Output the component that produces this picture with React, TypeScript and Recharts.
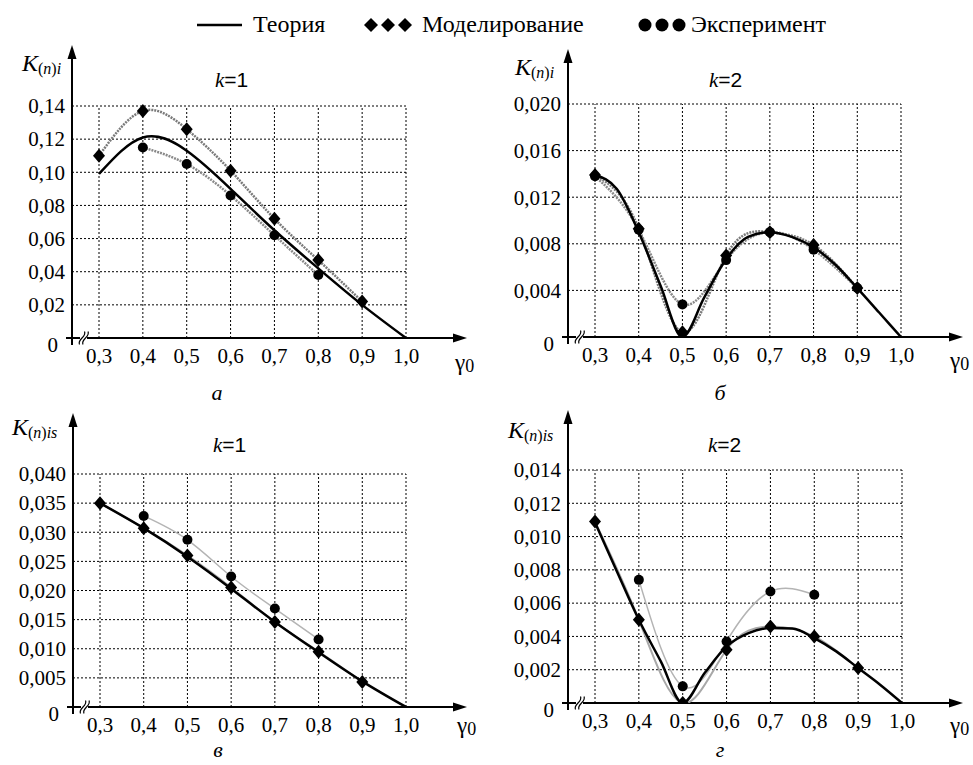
import React from "react"
import { ComposedChart, Line, XAxis, YAxis, ReferenceLine } from "recharts"

const SERIF = "'Liberation Serif', 'DejaVu Serif', 'Times New Roman', Tinos, serif"
const SANS = "'Liberation Sans', Arial, sans-serif"

// abscissa values (γ0)
const gamma = [0.3, 0.4, 0.5, 0.6, 0.7, 0.8, 0.9]
const gammaTheory = [0.3, 0.4, 0.5, 0.6, 0.7, 0.8, 0.9, 1.0]
const gammaFine = [0.3, 0.35, 0.4, 0.45, 0.5, 0.55, 0.6, 0.65, 0.7, 0.75, 0.8, 0.85, 0.9, 0.95, 1.0]
const xTicks = [0.3, 0.4, 0.5, 0.6, 0.7, 0.8, 0.9, 1.0]

// а) K(n)i, k=1
const theoryA = [0.099, 0.121, 0.113, 0.09, 0.065, 0.042, 0.02, 0]
const modelA = [0.11, 0.137, 0.126, 0.101, 0.072, 0.047, 0.022]
const experimentA = [null, 0.115, 0.105, 0.086, 0.062, 0.038, null]
const yTicksA = [0, 0.02, 0.04, 0.06, 0.08, 0.1, 0.12, 0.14]

// б) K(n)i, k=2
const theoryB = [0.0139, 0.0127, 0.009, 0.0044, 0, 0.0034, 0.0067, 0.0086, 0.009, 0.0086, 0.0077, 0.0062, 0.0042, 0.0021, 0]
const modelB = [0.0139, 0.0093, 0.0004, 0.007, 0.009, 0.0079, 0.0042]
const experimentB = [0.0138, 0.0092, 0.0028, 0.0066, 0.009, 0.0075, 0.0042]
const yTicksB = [0, 0.004, 0.008, 0.012, 0.016, 0.02]

// в) K(n)is, k=1
const theoryC = [0.035, 0.0307, 0.0258, 0.0203, 0.0146, 0.0094, 0.0044, 0]
const modelC = [0.035, 0.0307, 0.026, 0.0205, 0.0146, 0.0095, 0.0043]
const experimentC = [null, 0.0328, 0.0287, 0.0224, 0.0169, 0.0116, null]
const yTicksC = [0, 0.005, 0.01, 0.015, 0.02, 0.025, 0.03, 0.035, 0.04]

// г) K(n)is, k=2
const theoryD = [0.01085, 0.0079, 0.005, 0.0025, 0, 0.0018, 0.0034, 0.0042, 0.0045, 0.00447, 0.0039, 0.0031, 0.0021, 0.0011, 0]
const modelD = [0.0109, 0.005, 0, 0.0032, 0.0046, 0.004, 0.0021]
const experimentD = [null, 0.0074, 0.001, 0.0037, 0.0067, 0.0065, null]
const yTicksD = [0, 0.002, 0.004, 0.006, 0.008, 0.01, 0.012, 0.014]

type Row = { x: number; y: number }
const rows = (xs: number[], ys: (number | null)[]): Row[] =>
  xs.map((x, i) => ({ x, y: ys[i] as number })).filter((r) => r.y != null)

type Cfg = {
  box: { left: number; top: number; width: number; height: number }
  plot: { left: number; right: number; top: number; bottom: number }
  x03: number
  x10: number
  yTop: number
  yTopPx: number
}

const cfgA: Cfg = { box: { left: 0, top: 0, width: 486, height: 382 }, plot: { left: 72, right: 467, top: 45, bottom: 338 }, x03: 99, x10: 406, yTop: 0.14, yTopPx: 106 }
const cfgB: Cfg = { box: { left: 486, top: 0, width: 487, height: 382 }, plot: { left: 568, right: 963, top: 49, bottom: 337 }, x03: 595, x10: 901, yTop: 0.02, yTopPx: 104 }
const cfgC: Cfg = { box: { left: 0, top: 382, width: 486, height: 383 }, plot: { left: 73, right: 467, top: 413, bottom: 707 }, x03: 100, x10: 406, yTop: 0.04, yTopPx: 474 }
const cfgD: Cfg = { box: { left: 486, top: 382, width: 487, height: 383 }, plot: { left: 568, right: 963, top: 410, bottom: 703 }, x03: 595, x10: 902, yTop: 0.014, yTopPx: 470 }

const ArrowLine = (p: any) => {
  const { x1, y1, x2, y2 } = p
  const dx = x2 - x1
  const dy = y2 - y1
  const len = Math.hypot(dx, dy) || 1
  const ux = dx / len
  const uy = dy / len
  const L = 14
  const W = 4.5
  const bx = x2 - ux * L
  const by = y2 - uy * L
  return (
    <g>
      <line x1={x1} y1={y1} x2={bx + ux * 2} y2={by + uy * 2} stroke="#000" strokeWidth={2} />
      <polygon points={`${x2},${y2} ${bx - uy * W},${by + ux * W} ${bx + uy * W},${by - ux * W}`} fill="#000" />
    </g>
  )
}

const PlainLine = (p: any) => <line x1={p.x1} y1={p.y1} x2={p.x2} y2={p.y2} stroke="#000" strokeWidth={2} />

const BreakMark = (p: any) => {
  const { x1, y1 } = p
  const s = (o: number) => `M ${o - 2.5} ${y1 + 6.5} C ${o - 5} ${y1 + 1}, ${o + 5} ${y1 - 1}, ${o + 2.5} ${y1 - 6.5}`
  return (
    <g fill="none" stroke="#000" strokeWidth={1.2}>
      <path d={s(x1 + 2)} />
      <path d={s(x1 + 5.5)} />
    </g>
  )
}

const Diamond = (p: any) => {
  const { cx, cy } = p
  if (cx == null || cy == null) return <g />
  return <polygon points={`${cx},${cy - 7} ${cx + 6},${cy} ${cx},${cy + 7} ${cx - 6},${cy}`} fill="#000" />
}

const Dot = (p: any) => {
  const { cx, cy } = p
  if (cx == null || cy == null) return <g />
  return <circle cx={cx} cy={cy} r={5} fill="#000" />
}

const fmt = (v: number, d: number) => (v === 0 ? "0" : v.toFixed(d).replace(".", ","))

const YTick = (p: any) => {
  const { x, y, payload, digits } = p
  const zero = payload.value === 0
  return (
    <text x={zero ? x - 7 : x} y={zero ? y + 7 : y} dy="0.35em" textAnchor="end" fontSize={21} fontFamily={SERIF} fill="#000">
      {fmt(payload.value, digits)}
    </text>
  )
}

type PanelProps = {
  cfg: Cfg
  yTicks: number[]
  digits: number
  theory: Row[]
  theoryCurve: "natural" | "linear" | "monotone"
  model: Row[]
  experiment: Row[]
  light?: boolean
}

function Panel({ cfg, yTicks, digits, theory, theoryCurve, model, experiment, light }: PanelProps) {
  const { box, plot } = cfg
  const pxX = (cfg.x10 - cfg.x03) / 0.7
  const pxY = (plot.bottom - cfg.yTopPx) / cfg.yTop
  const xv = (px: number) => 0.3 + (px - cfg.x03) / pxX
  const xMin = xv(plot.left)
  const xMax = xv(plot.right)
  const yMax = (plot.bottom - plot.top) / pxY
  const yStub = -7 / pxY

  const grayModel = light
    ? { stroke: "#a8a8a8", strokeWidth: 2 }
    : { stroke: "#7a7a7a", strokeWidth: 2.5, strokeDasharray: "2 1" }
  const grayExp = light
    ? { stroke: "#b4b4b4", strokeWidth: 1.5 }
    : { stroke: "#8a8a8a", strokeWidth: 2.5, strokeDasharray: "2 1" }

  return (
    <div style={{ position: "absolute", left: box.left, top: box.top }}>
      <ComposedChart
        width={box.width}
        height={box.height}
        margin={{ top: plot.top - box.top, right: box.left + box.width - plot.right, bottom: 0, left: 0 }}
      >
        <XAxis
          type="number"
          dataKey="x"
          domain={[xMin, xMax]}
          allowDataOverflow
          ticks={xTicks}
          interval={0}
          tickFormatter={(v: number) => v.toFixed(1).replace(".", ",")}
          axisLine={false}
          tickLine={false}
          tickMargin={4}
          height={box.top + box.height - plot.bottom}
          tick={{ fontSize: 21, fill: "#000", fontFamily: SERIF }}
        />
        <YAxis
          type="number"
          domain={[0, yMax]}
          allowDataOverflow
          ticks={yTicks}
          interval={0}
          axisLine={false}
          tickLine={false}
          tickMargin={1}
          width={plot.left - box.left}
          tick={(p: any) => <YTick {...p} digits={digits} />}
        />
        {yTicks
          .filter((t) => t > 0)
          .map((t) => (
            <ReferenceLine key={"h" + t} segment={[{ x: xMin, y: t }, { x: 1.0, y: t }]} stroke="#000" strokeWidth={1} strokeDasharray="2 2" ifOverflow="visible" />
          ))}
        {xTicks.map((t) => (
          <ReferenceLine key={"v" + t} segment={[{ x: t, y: 0 }, { x: t, y: cfg.yTop }]} stroke="#000" strokeWidth={1} strokeDasharray="2 2" ifOverflow="visible" />
        ))}
        <ReferenceLine segment={[{ x: xMin, y: yStub }, { x: xMin, y: yMax }]} shape={ArrowLine} ifOverflow="visible" />
        <ReferenceLine segment={[{ x: xv(plot.left - 6), y: 0 }, { x: xv(plot.left + 8), y: 0 }]} shape={PlainLine} ifOverflow="visible" />
        <ReferenceLine segment={[{ x: xv(plot.left + 8), y: 0 }, { x: xv(plot.left + 15), y: 0 }]} shape={BreakMark} ifOverflow="visible" />
        <ReferenceLine segment={[{ x: xv(plot.left + 15), y: 0 }, { x: xMax, y: 0 }]} shape={ArrowLine} ifOverflow="visible" />

        <Line data={model} dataKey="y" type="natural" {...grayModel} dot={false} isAnimationActive={false} />
        <Line data={experiment} dataKey="y" type="natural" {...grayExp} dot={false} isAnimationActive={false} />
        <Line data={theory} dataKey="y" type={theoryCurve} stroke="#000" strokeWidth={2.5} dot={false} isAnimationActive={false} />
        <Line data={model} dataKey="y" stroke="none" dot={Diamond} isAnimationActive={false} />
        <Line data={experiment} dataKey="y" stroke="none" dot={Dot} isAnimationActive={false} />
      </ComposedChart>
    </div>
  )
}

const KLabel = ({ x, y, sub }: { x: number; y: number; sub: string }) => (
  <text x={x} y={y} fontFamily={SERIF} fill="#000">
    <tspan fontSize={24} fontStyle="italic">K</tspan>
    <tspan fontSize={16} dy={3}>(</tspan>
    <tspan fontSize={16} fontStyle="italic">n</tspan>
    <tspan fontSize={16}>)</tspan>
    <tspan fontSize={16} fontStyle="italic">{sub}</tspan>
  </text>
)

const KTitle = ({ x, y, k }: { x: number; y: number; k: number }) => (
  <text x={x} y={y} fill="#000" fontSize={21}>
    <tspan fontFamily={SERIF} fontStyle="italic">k</tspan>
    <tspan fontFamily={SANS}>={k}</tspan>
  </text>
)

const Gamma = ({ x, y }: { x: number; y: number }) => (
  <text x={x} y={y} fontFamily={SERIF} fill="#000">
    <tspan fontSize={23}>γ</tspan>
    <tspan fontSize={18} dy={2}>0</tspan>
  </text>
)

const Letter = ({ x, y, t }: { x: number; y: number; t: string }) => (
  <text x={x} y={y} fontFamily={SERIF} fontStyle="italic" fontSize={22} textAnchor="middle" fill="#000">
    {t}
  </text>
)

export default function App() {
  return (
    <div style={{ position: "absolute", left: 0, top: 0, width: 973, height: 765, background: "#fff", overflow: "hidden" }}>
      <Panel cfg={cfgA} yTicks={yTicksA} digits={2} theory={rows(gammaTheory, theoryA)} theoryCurve="natural" model={rows(gamma, modelA)} experiment={rows(gamma, experimentA)} />
      <Panel cfg={cfgB} yTicks={yTicksB} digits={3} theory={rows(gammaFine, theoryB)} theoryCurve="monotone" model={rows(gamma, modelB)} experiment={rows(gamma, experimentB)} />
      <Panel cfg={cfgC} yTicks={yTicksC} digits={3} theory={rows(gammaTheory, theoryC)} theoryCurve="natural" model={rows(gamma, modelC)} experiment={rows(gamma, experimentC)} light />
      <Panel cfg={cfgD} yTicks={yTicksD} digits={3} theory={rows(gammaFine, theoryD)} theoryCurve="monotone" model={rows(gamma, modelD)} experiment={rows(gamma, experimentD)} light />

      <svg width={973} height={765} style={{ position: "absolute", left: 0, top: 0, pointerEvents: "none" }}>
        {/* legend */}
        <line x1={197} y1={25} x2={242} y2={25} stroke="#000" strokeWidth={2.5} />
        <text x={253} y={32} fontFamily={SERIF} fontSize={24} fill="#000">Теория</text>
        {[371, 388, 405].map((c) => (
          <polygon key={c} points={`${c},${18} ${c + 7},${25} ${c},${32} ${c - 7},${25}`} fill="#000" />
        ))}
        <text x={422} y={32} fontFamily={SERIF} fontSize={24} fill="#000">Моделирование</text>
        {[645, 662, 679].map((c) => (
          <circle key={c} cx={c} cy={25} r={6.5} fill="#000" />
        ))}
        <text x={691} y={32} fontFamily={SERIF} fontSize={24} fill="#000">Эксперимент</text>

        <KLabel x={22} y={71} sub="i" />
        <KLabel x={515} y={75} sub="i" />
        <KLabel x={12} y={435} sub="is" />
        <KLabel x={508} y={438} sub="is" />

        <KTitle x={215} y={87} k={1} />
        <KTitle x={709} y={87} k={2} />
        <KTitle x={213} y={452} k={1} />
        <KTitle x={708} y={452} k={2} />

        <Gamma x={455} y={370} />
        <Gamma x={950} y={368} />
        <Gamma x={457} y={733} />
        <Gamma x={950} y={733} />

        <Letter x={217} y={400} t="а" />
        <Letter x={720} y={400} t="б" />
        <Letter x={218} y={757} t="в" />
        <Letter x={720} y={757} t="г" />
      </svg>
    </div>
  )
}
